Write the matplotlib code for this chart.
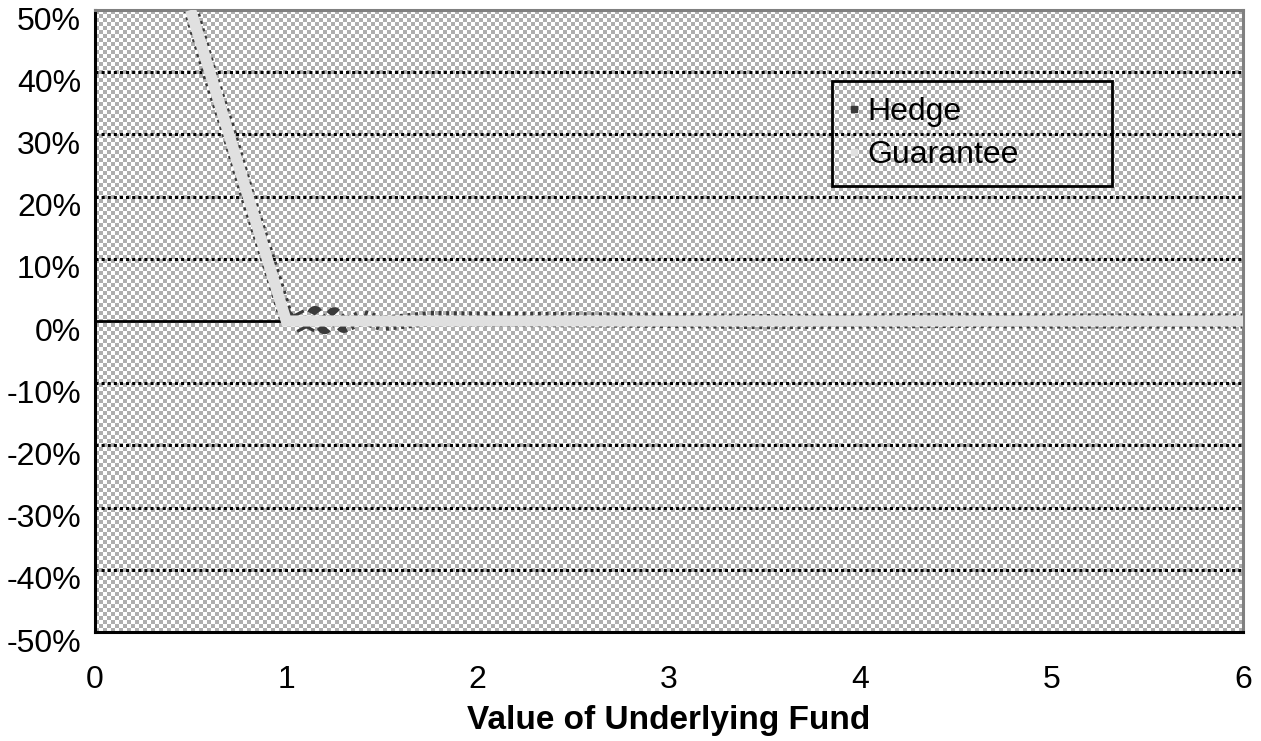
import numpy as np
import matplotlib
matplotlib.use("Agg")
import matplotlib.pyplot as plt
from matplotlib.lines import Line2D
import matplotlib.transforms as mtransforms

# дані
fund_x = [0.5, 0.6, 0.7, 0.8, 0.9, 1.0, 1.05, 1.1, 1.15, 1.2, 1.25, 1.3, 1.4, 1.5,
          1.75, 2.0, 2.5, 3.0, 3.5, 4.0, 4.5, 5.0, 5.5, 6.0]
guarantee = [50, 40, 30, 20, 10, 0, 0, 0, 0, 0, 0, 0, 0, 0,
             0, 0, 0, 0, 0, 0, 0, 0, 0, 0]
hedge = [50.3, 39.7, 30.3, 19.8, 10.3, 0.5, 1.4, -1.6, 1.2, -0.9, 1.0, -0.7, 0.6, -0.4,
         0.4, 0.3, 0.2, 0.1, -0.1, 0.0, 0.1, 0.0, 0.0, 0.0]
y_ticks = [-50, -40, -30, -20, -10, 0, 10, 20, 30, 40, 50]
x_ticks = [0, 1, 2, 3, 4, 5, 6]

plt.rcParams['font.family'] = ['Liberation Sans', 'DejaVu Sans']

fig = plt.figure(figsize=(12.61, 7.41), dpi=100)
ax = fig.add_axes([95 / 1261, 1 - 632 / 741, 1148 / 1261, 622 / 741])

# фон у клітинку
nx, ny = 287, 155
checker = (np.add.outer(np.arange(ny), np.arange(nx)) % 2).astype(float)
checker = 0.68 + 0.32 * checker
ax.imshow(checker, cmap='gray', vmin=0, vmax=1, extent=[0, 6, -50, 50],
          aspect='auto', interpolation='nearest', zorder=0)

# сітка
for v in y_ticks[1:-1]:
    if v == 0:
        ax.axhline(v, color='black', lw=2, zorder=1)
    else:
        ax.axhline(v, color='black', lw=2.2, linestyle=(0, (1, 1)), zorder=1)

# лінії
ax.plot(fund_x, hedge, color='#3a3a3a', lw=11, linestyle=(0, (0.2, 0.3)),
        solid_capstyle='butt', zorder=2)
ax.plot(fund_x, guarantee, color='#e0e0e0', lw=8, solid_joinstyle='miter',
        solid_capstyle='butt', zorder=3)

ax.set_xlim(0, 6)
ax.set_ylim(-50, 50)
ax.set_xticks(x_ticks)
ax.set_xticklabels([str(v) for v in x_ticks])
ax.set_yticks(y_ticks)
ax.set_yticklabels([f"{v}%" for v in y_ticks])
ax.tick_params(axis='y', length=0, pad=10, labelsize=23)
ax.tick_params(axis='x', length=0, pad=24, labelsize=23)
# підписи осі Y трохи нижче
offset = mtransforms.ScaledTranslation(0, -8 / 100, fig.dpi_scale_trans)
for lab in ax.get_yticklabels():
    lab.set_transform(lab.get_transform() + offset)

ax.set_xlabel("Value of Underlying Fund", fontsize=24, fontweight='bold')
ax.xaxis.set_label_coords(0.5, -(720 - 632) / 622)
ax.xaxis.label.set_va('center')

ax.spines['left'].set_color('black')
ax.spines['left'].set_linewidth(2.2)
ax.spines['bottom'].set_color('black')
ax.spines['bottom'].set_linewidth(2.2)
ax.spines['top'].set_color('#808080')
ax.spines['top'].set_linewidth(2.2)
ax.spines['right'].set_color('#808080')
ax.spines['right'].set_linewidth(2.2)

# легенда
handles = [Line2D([], [], color='#3a3a3a', marker='s', markersize=5, lw=0),
           Line2D([], [], color='#e0e0e0', marker='s', markersize=5, lw=0)]
x0 = (832 - 95) / 1148
x1 = (1112 - 95) / 1148
ytop = (632 - 81) / 622
leg = ax.legend(handles, ["Hedge", "Guarantee"], loc='upper left',
                bbox_to_anchor=(x0, ytop - 0.2, x1 - x0, 0.2), mode='expand',
                fontsize=23, frameon=True, fancybox=False, framealpha=1,
                handlelength=0.4, handletextpad=0.2, borderpad=0.5,
                labelspacing=0.4, borderaxespad=0)
leg.get_frame().set_facecolor('none')
leg.get_frame().set_edgecolor('black')
leg.get_frame().set_linewidth(2)
leg.set_zorder(5)

fig.savefig("out.png", dpi=100)
